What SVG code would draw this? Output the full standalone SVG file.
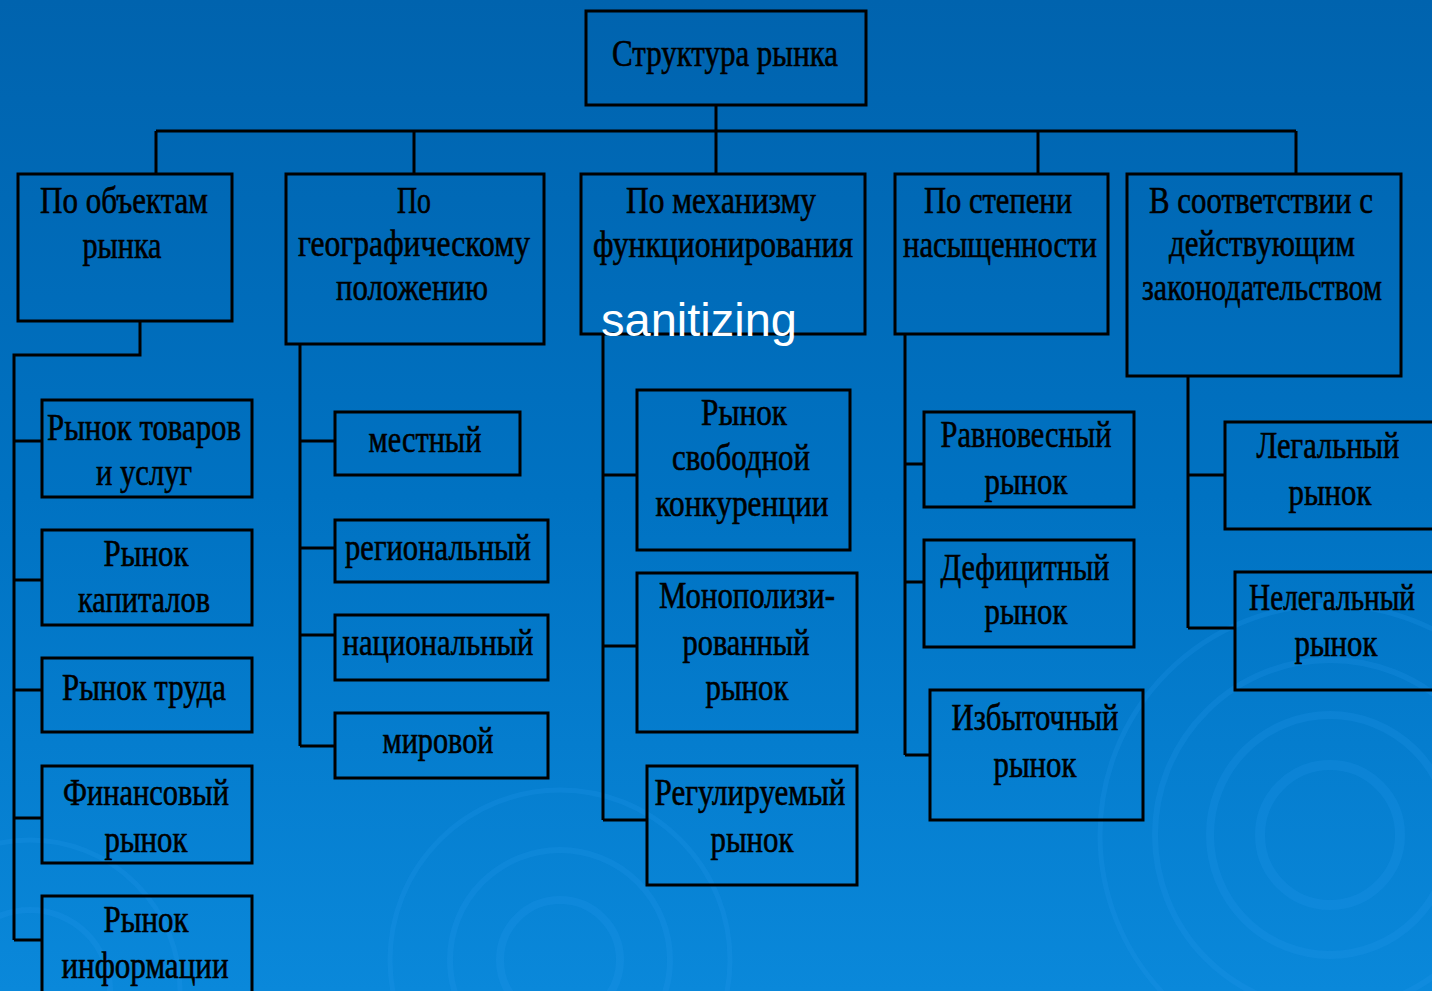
<svg xmlns="http://www.w3.org/2000/svg" width="1432" height="991" viewBox="0 0 1432 991">
<defs>
<linearGradient id="bg" x1="0" y1="0" x2="0" y2="1">
<stop offset="0" stop-color="#0063AE"/>
<stop offset="0.5" stop-color="#0072C2"/>
<stop offset="1" stop-color="#0A88DA"/>
</linearGradient>
<style>
.box{fill:none;stroke:#000;stroke-width:3}
.ln{fill:none;stroke:#000;stroke-width:3}
.t{font-family:"Liberation Serif","DejaVu Serif",serif;font-size:38px;fill:#000;stroke:#000;stroke-width:0.6;text-anchor:middle}
.rp{fill:none;stroke:#2a9cf0;stroke-opacity:0.2}
</style>
</defs>
<rect width="1432" height="991" fill="url(#bg)"/>
<g id="ripples">
<circle class="rp" cx="1330" cy="835" r="70" stroke-width="10"/>
<circle class="rp" cx="1330" cy="835" r="120" stroke-width="8"/>
<circle class="rp" cx="1330" cy="835" r="175" stroke-width="6"/>
<circle class="rp" cx="1330" cy="835" r="230" stroke-width="5"/>
<circle class="rp" cx="560" cy="960" r="60" stroke-width="8"/>
<circle class="rp" cx="560" cy="960" r="110" stroke-width="6"/>
<circle class="rp" cx="560" cy="960" r="170" stroke-width="5"/>
<circle class="rp" cx="30" cy="990" r="80" stroke-width="6"/>
<circle class="rp" cx="30" cy="990" r="150" stroke-width="5"/>
</g>
<g id="connectors">
<path class="ln" d="M716 105V131M156 131H1296M156 131V174M414 131V174M716 131V174M1038 131V174M1296 131V174"/>
<path class="ln" d="M140 321V355H14V940M14 441H42M14 580H42M14 690H42M14 818H42M14 940H42"/>
<path class="ln" d="M300 344V746M300 441H335M300 548H335M300 635H335M300 746H335"/>
<path class="ln" d="M603 334V820M603 475H637M603 646H637M603 820H647"/>
<path class="ln" d="M905 334V755M905 464H924M905 582H924M905 755H930"/>
<path class="ln" d="M1188 376V628M1188 475H1225M1188 628H1235"/>
</g>
<g id="root"><rect class="box" x="586" y="11" width="280" height="94"/><text class="t" x="725" y="66" textLength="226" lengthAdjust="spacingAndGlyphs">Структура рынка</text></g>
<g id="c1"><rect class="box" x="18" y="174" width="214" height="147"/><text class="t" x="124" y="213" textLength="168" lengthAdjust="spacingAndGlyphs">По объектам</text><text class="t" x="122" y="258" textLength="79" lengthAdjust="spacingAndGlyphs">рынка</text></g>
<g id="c2"><rect class="box" x="286" y="174" width="258" height="170"/><text class="t" x="414" y="213" textLength="34" lengthAdjust="spacingAndGlyphs">По</text><text class="t" x="414" y="256" textLength="232" lengthAdjust="spacingAndGlyphs">географическому</text><text class="t" x="412" y="300" textLength="152" lengthAdjust="spacingAndGlyphs">положению</text></g>
<g id="c3"><rect class="box" x="581" y="174" width="284" height="160"/><text class="t" x="721" y="213" textLength="190" lengthAdjust="spacingAndGlyphs">По механизму</text><text class="t" x="723" y="257" textLength="260" lengthAdjust="spacingAndGlyphs">функционирования</text></g>
<g id="c4"><rect class="box" x="895" y="174" width="213" height="160"/><text class="t" x="998" y="213" textLength="148" lengthAdjust="spacingAndGlyphs">По степени</text><text class="t" x="1000" y="257" textLength="194" lengthAdjust="spacingAndGlyphs">насыщенности</text></g>
<g id="c5"><rect class="box" x="1127" y="174" width="274" height="202"/><text class="t" x="1261" y="213" textLength="224" lengthAdjust="spacingAndGlyphs">В соответствии с</text><text class="t" x="1262" y="256" textLength="186" lengthAdjust="spacingAndGlyphs">действующим</text><text class="t" x="1262" y="300" textLength="240" lengthAdjust="spacingAndGlyphs">законодательством</text></g>
<g id="n11"><rect class="box" x="42" y="400" width="210" height="97"/><text class="t" x="144" y="440" textLength="194" lengthAdjust="spacingAndGlyphs">Рынок товаров</text><text class="t" x="144" y="485" textLength="96" lengthAdjust="spacingAndGlyphs">и услуг</text></g>
<g id="n12"><rect class="box" x="42" y="530" width="210" height="95"/><text class="t" x="146" y="566" textLength="85" lengthAdjust="spacingAndGlyphs">Рынок</text><text class="t" x="144" y="612" textLength="132" lengthAdjust="spacingAndGlyphs">капиталов</text></g>
<g id="n13"><rect class="box" x="42" y="658" width="210" height="74"/><text class="t" x="144" y="700" textLength="164" lengthAdjust="spacingAndGlyphs">Рынок труда</text></g>
<g id="n14"><rect class="box" x="42" y="766" width="210" height="97"/><text class="t" x="146" y="805" textLength="166" lengthAdjust="spacingAndGlyphs">Финансовый</text><text class="t" x="146" y="852" textLength="83" lengthAdjust="spacingAndGlyphs">рынок</text></g>
<g id="n15"><rect class="box" x="42" y="896" width="210" height="110"/><text class="t" x="146" y="932" textLength="85" lengthAdjust="spacingAndGlyphs">Рынок</text><text class="t" x="145" y="978" textLength="167" lengthAdjust="spacingAndGlyphs">информации</text></g>
<g id="n21"><rect class="box" x="335" y="412" width="185" height="63"/><text class="t" x="425" y="452" textLength="113" lengthAdjust="spacingAndGlyphs">местный</text></g>
<g id="n22"><rect class="box" x="335" y="520" width="213" height="62"/><text class="t" x="438" y="560" textLength="186" lengthAdjust="spacingAndGlyphs">региональный</text></g>
<g id="n23"><rect class="box" x="335" y="615" width="213" height="65"/><text class="t" x="438" y="655" textLength="191" lengthAdjust="spacingAndGlyphs">национальный</text></g>
<g id="n24"><rect class="box" x="335" y="713" width="213" height="65"/><text class="t" x="438" y="753" textLength="111" lengthAdjust="spacingAndGlyphs">мировой</text></g>
<g id="n31"><rect class="box" x="637" y="390" width="213" height="160"/><text class="t" x="744" y="425" textLength="86" lengthAdjust="spacingAndGlyphs">Рынок</text><text class="t" x="741" y="470" textLength="138" lengthAdjust="spacingAndGlyphs">свободной</text><text class="t" x="742" y="516" textLength="173" lengthAdjust="spacingAndGlyphs">конкуренции</text></g>
<g id="n32"><rect class="box" x="637" y="573" width="220" height="159"/><text class="t" x="747" y="608" textLength="176" lengthAdjust="spacingAndGlyphs">Монополизи-</text><text class="t" x="746" y="655" textLength="127" lengthAdjust="spacingAndGlyphs">рованный</text><text class="t" x="747" y="700" textLength="83" lengthAdjust="spacingAndGlyphs">рынок</text></g>
<g id="n33"><rect class="box" x="647" y="766" width="210" height="119"/><text class="t" x="750" y="805" textLength="191" lengthAdjust="spacingAndGlyphs">Регулируемый</text><text class="t" x="752" y="852" textLength="83" lengthAdjust="spacingAndGlyphs">рынок</text></g>
<g id="n41"><rect class="box" x="924" y="412" width="210" height="95"/><text class="t" x="1026" y="447" textLength="171" lengthAdjust="spacingAndGlyphs">Равновесный</text><text class="t" x="1026" y="494" textLength="83" lengthAdjust="spacingAndGlyphs">рынок</text></g>
<g id="n42"><rect class="box" x="924" y="540" width="210" height="107"/><text class="t" x="1025" y="580" textLength="169" lengthAdjust="spacingAndGlyphs">Дефицитный</text><text class="t" x="1026" y="624" textLength="83" lengthAdjust="spacingAndGlyphs">рынок</text></g>
<g id="n43"><rect class="box" x="930" y="690" width="213" height="130"/><text class="t" x="1035" y="730" textLength="167" lengthAdjust="spacingAndGlyphs">Избыточный</text><text class="t" x="1035" y="777" textLength="83" lengthAdjust="spacingAndGlyphs">рынок</text></g>
<g id="n51"><rect class="box" x="1225" y="422" width="215" height="107"/><text class="t" x="1328" y="458" textLength="143" lengthAdjust="spacingAndGlyphs">Легальный</text><text class="t" x="1330" y="505" textLength="83" lengthAdjust="spacingAndGlyphs">рынок</text></g>
<g id="n52"><rect class="box" x="1235" y="572" width="205" height="118"/><text class="t" x="1332" y="610" textLength="166" lengthAdjust="spacingAndGlyphs">Нелегальный</text><text class="t" x="1336" y="656" textLength="83" lengthAdjust="spacingAndGlyphs">рынок</text></g>
<text x="601" y="336" font-family="Liberation Sans, Arial, sans-serif" font-size="47" fill="#fff">sanitizing</text>
</svg>
